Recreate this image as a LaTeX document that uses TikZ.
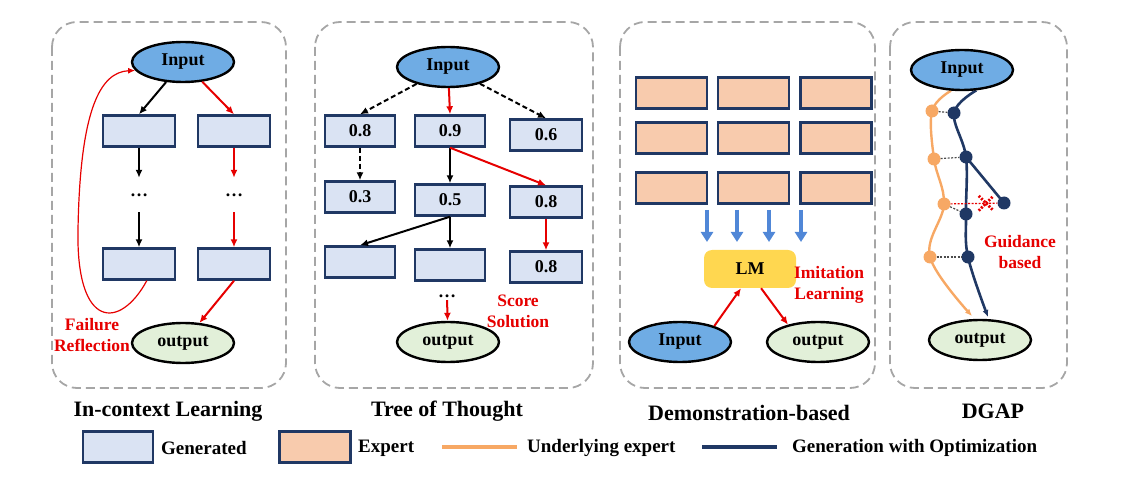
\documentclass[tikz,border=0pt]{standalone}
\usepackage{fontspec}
\setmainfont{Liberation Serif}
\usetikzlibrary{shapes.geometric}
\usetikzlibrary{shapes.misc}
\usetikzlibrary{arrows.meta}
\usetikzlibrary{backgrounds}
\definecolor{genfill}{RGB}{218,227,243}
\definecolor{expfill}{RGB}{248,203,173}
\definecolor{navy}{RGB}{32,56,100}
\definecolor{inpfill}{RGB}{111,172,228}
\definecolor{outfill}{RGB}{226,240,217}
\definecolor{lmfill}{RGB}{255,215,80}
\definecolor{redc}{RGB}{230,0,0}
\definecolor{barblue}{RGB}{80,135,215}
\definecolor{orng}{RGB}{247,168,100}
\definecolor{framegray}{RGB}{166,166,166}
\newcommand\fnode{\fontsize{18}{20}\selectfont\bfseries}
\newcommand\ftitle{\fontsize{22}{24}\selectfont\bfseries}
\newcommand\flegend{\fontsize{19}{21}\selectfont\bfseries}
\newcommand\flabel{\fontsize{17.5}{21}\selectfont\bfseries}
\tikzset{
  panel/.style={draw=framegray,line width=1.8pt,dash pattern=on 9pt off 5pt,rounded corners=25pt},
  gen/.style={draw=navy,fill=genfill,line width=2.4pt,minimum width=70pt,minimum height=31pt,inner sep=0pt,font=\fnode},
  exp/.style={draw=navy,fill=expfill,line width=2.4pt,minimum width=71pt,minimum height=31pt,inner sep=0pt},
  inp/.style={ellipse,draw,fill=inpfill,line width=2.4pt,minimum width=102pt,minimum height=40pt,inner sep=0pt,font=\fnode},
  outp/.style={ellipse,draw,fill=outfill,line width=2.4pt,minimum width=102pt,minimum height=40pt,inner sep=0pt,font=\fnode},
  lm/.style={fill=lmfill,rounded corners=8pt,minimum width=92pt,minimum height=38pt,inner sep=0pt,font=\fnode},
  dots/.style={inner sep=0pt,minimum height=34pt,font=\fnode},
  lbl/.style={inner sep=0pt,align=center,text=redc,font=\flabel},
  ttl/.style={inner sep=0pt,font=\ftitle},
  leg/.style={inner sep=0pt,anchor=west,font=\flegend},
  blk/.style={line width=2pt,-{Latex[length=8pt,width=7pt]}},
  dsh/.style={blk,dash pattern=on 5pt off 3pt},
  redarr/.style={blk,draw=redc},
  refl/.style={draw=redc,line width=1.2pt,-{Latex[length=7pt,width=6pt]}},
  barr/.style={draw=barblue,line width=4pt,-{Triangle[length=10pt,width=12pt]}},
  expl/.style={draw=orng,line width=2.4pt},
  optl/.style={draw=navy,line width=2.6pt},
  odot/.style={circle,fill=orng,minimum size=13pt,inner sep=0pt},
  ndot/.style={circle,fill=navy,minimum size=13pt,inner sep=0pt},
  link/.style={draw=black!70,line width=1.2pt,dash pattern=on 2pt off 1.5pt},
  rlink/.style={draw=redc,line width=1.2pt,dash pattern=on 2pt off 1.5pt},
  xmark/.style={cross out,draw=redc,line width=2.8pt,minimum size=12pt,inner sep=0pt}
}

\begin{document}
\begin{tikzpicture}[x=1pt,y=-1pt]
  \useasboundingbox (0,0) rectangle (1122,478);
  \draw[panel] (52,22) rectangle (286,388);
  \draw[panel] (315,22) rectangle (593,388);
  \draw[panel] (620,22) rectangle (875,388);
  \draw[panel] (890,22) rectangle (1067,388);

  % in-context learning
  \node[inp] (in1) at (183,62) {Input};
  \node[gen,minimum width=72pt] (a1) at (139,131) {};
  \node[gen,minimum width=72pt] (b1) at (234,131) {};
  \node[dots] (a2) at (139,195) {…};
  \node[dots] (b2) at (234,195) {…};
  \node[gen,minimum width=72pt] (a3) at (139,264) {};
  \node[gen,minimum width=72pt] (b3) at (234,264) {};
  \node[outp] (out1) at (183,343) {output};
  \draw[blk] (in1) -- (a1.north);
  \draw[redarr] (in1) -- (b1.north);
  \draw[blk] (a1) -- (a2);
  \draw[blk] (a2) -- (a3);
  \draw[redarr] (b1) -- (b2);
  \draw[redarr] (b2) -- (b3);
  \draw[redarr] (b3.south) -- (out1);
  \draw[refl] (a3.-65) .. controls (120,330) and (76,330) .. (78,230) .. controls (80,110) and (100,72) .. (in1.190);
  \node[lbl] (fr) at (92,335) {Failure\\Reflection};

  % tree of thought
  \node[inp] (in2) at (448,67) {Input};
  \node[gen] (t1) at (360,131) {0.8};
  \node[gen] (t2) at (450,131) {0.9};
  \node[gen,minimum width=72pt] (t3) at (546,135) {0.6};
  \node[gen] (t4) at (360,197) {0.3};
  \node[gen] (t5) at (450,200) {0.5};
  \node[gen,minimum width=72pt] (t6) at (546,202) {0.8};
  \node[gen] (t7) at (360,262) {};
  \node[gen] (t8) at (450,265) {};
  \node[gen,minimum width=72pt] (t9) at (546,267) {0.8};
  \node[dots,minimum height=8pt] (d2) at (447,296) {…};
  \node[outp] (out2) at (448,342) {output};
  \draw[dsh] (in2) -- (t1.north);
  \draw[redarr] (in2) -- (t2.north);
  \draw[dsh] (in2) -- (t3.north);
  \draw[dsh] (t1) -- (t4);
  \draw[blk] (t2) -- (t5);
  \draw[redarr] (t2.south) -- (t6.north);
  \draw[blk] (t5.south) -- (t7.north);
  \draw[blk] (t5) -- (t8);
  \draw[redarr] (t6) -- (t9);
  \draw[redarr] (d2) -- (out2);
  \node[lbl] (ss) at (518,311) {Score\\Solution};

  % demonstration-based
  \foreach \r/\y in {1/93,2/138,3/188}
    \foreach \c/\x in {1/671.5,2/753.5,3/836}
      \node[exp] (e\r\c) at (\x,\y) {};
  \foreach \x [count=\i] in {707,737,769,801} {
    \coordinate (bs\i) at (\x,210);
    \coordinate (be\i) at (\x,242);
    \draw[barr] (bs\i) -- (be\i);
  }
  \node[lm] (lm) at (750,269) {LM};
  \node[lbl] (il) at (829,285) {Imitation\\Learning};
  \node[inp] (in3) at (680,342) {Input};
  \node[outp] (out3) at (818,342) {output};
  \draw[redarr] (in3.25) -- (lm.-115);
  \draw[redarr] (lm.-60) -- (out3.150);

  % dgap
  \node[inp] (in4) at (962,70) {Input};
  \node[outp] (out4) at (980,340) {output};
  \foreach \n/\x/\y in {o1/932/111,o2/934/159,o3/944/204,o4/930/257}
    \node[odot] (\n) at (\x,\y) {};
  \foreach \n/\x/\y in {n1/954/113,n2/966/157,n3/966/214,n4/968/257,n5/1004/203}
    \node[ndot] (\n) at (\x,\y) {};
  \coordinate (oe) at (972,316);
  \coordinate (ne) at (988,317);
  \begin{scope}[on background layer]
    \draw[expl,-{Latex[length=7pt,width=6pt]}] plot[smooth,tension=0.6] coordinates {(in4.-118) (o1.center) (o2.center) (o3.center) (o4.center) (oe)};
    \draw[optl,-{Latex[length=7pt,width=6pt]}] plot[smooth,tension=0.6] coordinates {(in4.-55) (n1.center) (n2.center) (n3.center) (n4.center) (ne)};
    \draw[optl] (n2.center) -- (n5.center);
  \end{scope}
  \draw[link] (o1) -- (n1);
  \draw[link] (o2) -- (n2);
  \draw[link] (o3) -- (n3);
  \draw[link] (o4) -- (n4);
  \draw[rlink] (o3) -- node[pos=0.76,xmark]{} (n5);
  \node[lbl] (gb) at (1020,252) {Guidance\\based};

  % titles
  \node[ttl] (h1) at (168,411) {In-context Learning};
  \node[ttl] (h2) at (447,411) {Tree of Thought};
  \node[ttl] (h3) at (749,413) {Demonstration-based};
  \node[ttl] (h4) at (993,411) {DGAP};

  % legend
  \node[gen] (lg1) at (118,447) {};
  \node[leg] (lt1) at (161,448) {Generated};
  \node[exp] (lg2) at (315,447) {};
  \node[leg] (lt2) at (358,448) {Expert};
  \coordinate (la1) at (442,447);
  \coordinate (lb1) at (517,447);
  \draw[expl,line width=4pt] (la1) -- (lb1);
  \node[leg] (lt3) at (527,448) {Underlying expert};
  \coordinate (la2) at (702,447);
  \coordinate (lb2) at (777,447);
  \draw[optl,line width=4pt] (la2) -- (lb2);
  \node[leg] (lt4) at (792,448) {Generation with Optimization};
\end{tikzpicture}
\end{document}
